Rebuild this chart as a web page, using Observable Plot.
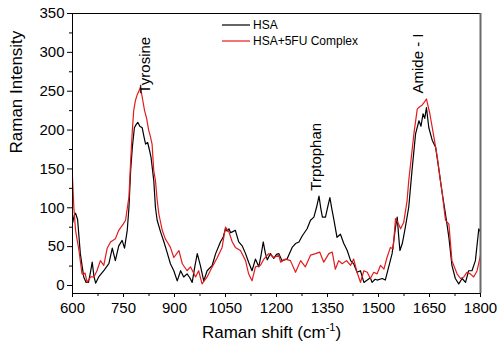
<!DOCTYPE html>
<html><head><meta charset="utf-8">
<script src="https://cdn.jsdelivr.net/npm/d3@7"></script>
<script src="https://cdn.jsdelivr.net/npm/@observablehq/plot@0.6"></script>
<style>
body{margin:0;background:#fff;font-family:"Liberation Sans",Arial,sans-serif;}
#wrap{position:relative;width:500px;height:352px;}
#legend{position:absolute;left:0;top:0;pointer-events:none;}
</style></head><body><div id="wrap"></div><script>
// HSA spectrum (Raman shift cm-1, intensity)
const hsaX = [600,605,609,615,623,633,640,647,652,658,663,668,677,692,700,707,717,726,736,746,753,761,766,771,776,782,787,792,798,805,810,815,821,826,831,839,844,849,859,869,878,888,898,908,918,927,937,945,952,960,967,976,986,996,1011,1021,1035,1043,1050,1055,1060,1065,1070,1079,1089,1099,1109,1118,1128,1138,1148,1155,1161,1167,1173,1182,1192,1200,1207,1216,1231,1246,1256,1266,1276,1290,1300,1310,1318,1325,1330,1335,1344,1350,1357,1363,1369,1378,1388,1398,1408,1418,1427,1437,1447,1457,1467,1476,1481,1490,1496,1511,1520,1530,1540,1550,1555,1560,1563,1570,1579,1589,1599,1609,1619,1625,1631,1636,1641,1648,1658,1668,1678,1687,1697,1707,1716,1726,1736,1746,1756,1765,1775,1785,1795,1800];
const hsaY = [80,90,93,85,41,11,4,4,15,30,12,3,11,19,24,28,48,32,51,58,48,71,100,148,178,203,207,210,205,203,192,182,184,175,165,135,100,84,69,56,43,28,19,6,19,11,15,10,4,25,41,26,6,19,26,41,56,62,73,70,73,68,69,71,56,51,41,30,19,34,24,40,56,42,33,41,35,40,41,32,34,49,54,56,64,73,84,88,101,115,100,88,88,100,113,98,84,62,66,54,45,32,28,17,19,4,7,10,4,8,7,9,7,24,41,75,88,60,45,54,75,101,150,195,212,205,221,215,229,203,187,178,148,120,92,62,26,9,2,9,4,19,19,32,73,69];
// HSA+5FU complex spectrum
const cpxX = [600,604,609,619,628,632,637,643,653,663,672,682,692,702,712,726,736,749,756,766,771,776,780,785,790,795,800,806,812,818,824,829,834,839,844,849,854,864,873,880,888,898,913,923,937,947,962,971,981,996,1011,1026,1040,1050,1060,1070,1079,1094,1109,1118,1128,1138,1153,1163,1177,1192,1207,1212,1226,1241,1256,1271,1285,1300,1315,1327,1339,1354,1364,1373,1383,1393,1406,1418,1427,1437,1447,1457,1467,1476,1486,1496,1506,1516,1525,1535,1543,1550,1557,1565,1574,1584,1589,1604,1614,1621,1628,1635,1641,1651,1663,1673,1682,1687,1697,1707,1716,1731,1741,1751,1760,1770,1780,1790,1800];
const cpxY = [139,100,71,45,15,14,16,4,11,11,19,32,26,48,56,60,71,79,84,114,160,200,225,238,245,250,255,240,225,215,200,192,182,148,135,110,92,71,60,55,49,36,45,28,19,24,11,19,2,11,24,36,49,75,69,56,49,45,32,15,6,24,26,34,41,36,39,30,34,32,17,32,24,39,41,43,30,41,43,21,32,28,32,26,34,17,4,19,17,9,17,15,26,21,36,49,47,86,81,73,81,109,135,195,227,230,232,236,240,221,191,165,135,120,84,79,32,15,9,11,17,15,11,19,39];

const seriesNames = ["HSA", "HSA+5FU Complex"];
const seriesColors = ["#000000", "#e31a1c"];
const xTicks = [600,750,900,1050,1200,1350,1500,1650,1800];
const xMinor = [675,825,975,1125,1275,1425,1575,1725];
const yTicks = [0,50,100,150,200,250,300,350];
const yMinor = [25,75,125,175,225,275,325];
const peakLabels = ["Tyrosine","Trptophan","Amide - I"];
const peakX = [815,1318,1618];
const peakY = [247,122,247];

const hsa = hsaX.map((x,i)=>({x, y:hsaY[i]}));
const cpx = cpxX.map((x,i)=>({x, y:cpxY[i]}));
const peaks = peakLabels.map((t,i)=>({t, x:peakX[i], y:peakY[i]}));

const font = "Liberation Sans, Arial, sans-serif";
const plot = Plot.plot({
  width:500, height:352,
  marginLeft:72, marginRight:20, marginTop:13, marginBottom:59,
  style:{fontFamily:font, background:"white", color:"black"},
  x:{domain:[600,1800]},
  y:{domain:[-10.3,350]},
  marks:[
    Plot.axisY({ticks:yTicks, tickSize:5, tickPadding:3, fontSize:15, label:null}),
    Plot.axisY({ticks:yMinor, tickSize:3, text:null, label:null}),
    Plot.axisX({ticks:xTicks, tickSize:4, tickPadding:5, fontSize:15, label:null, tickFormat:d=>String(d)}),
    Plot.axisX({ticks:xMinor, tickSize:3, text:null, label:null}),
    Plot.line(hsa, {x:"x", y:"y", stroke:seriesColors[0], strokeWidth:1.2}),
    Plot.line(cpx, {x:"x", y:"y", stroke:seriesColors[1], strokeWidth:1.2}),
    Plot.frame({stroke:"black"}),
    Plot.ruleX([1800], {stroke:"#6b6b6b", strokeWidth:2}),
    Plot.text(peaks, {x:"x", y:"y", text:"t", rotate:-90, textAnchor:"start", fontSize:15, fill:"black"}),
    Plot.text(["Raman Intensity"], {frameAnchor:"left", dx:-56, rotate:-90, fontSize:17, fill:"black"}),
    Plot.text(["Raman shift (cm-1)"], {frameAnchor:"bottom", dy:44, dx:-5, fontSize:17, fill:"black"})
  ]
});
document.getElementById("wrap").appendChild(plot);

// superscript for x title
d3.select(plot).selectAll("text").filter(function(){return this.textContent==="Raman shift (cm-1)";}).each(function(){
  const t = d3.select(this);
  t.text(null);
  t.append("tspan").text("Raman shift (cm");
  t.append("tspan").attr("font-size",11).attr("dy","-0.6em").text("-1");
  t.append("tspan").attr("dy","0.4em").text(")");
});

// legend
const leg = d3.select("#wrap").append("svg").attr("id","legend").attr("width",500).attr("height",352);
seriesNames.forEach((n,i)=>{
  const y = 25 + i*16;
  leg.append("line").attr("x1",222).attr("x2",250).attr("y1",y).attr("y2",y).attr("stroke",seriesColors[i]).attr("stroke-width",1.2);
  leg.append("text").attr("x",253).attr("y",y).attr("dy","0.35em").attr("font-size",12).attr("font-family",font).text(n);
});
</script></body></html>
